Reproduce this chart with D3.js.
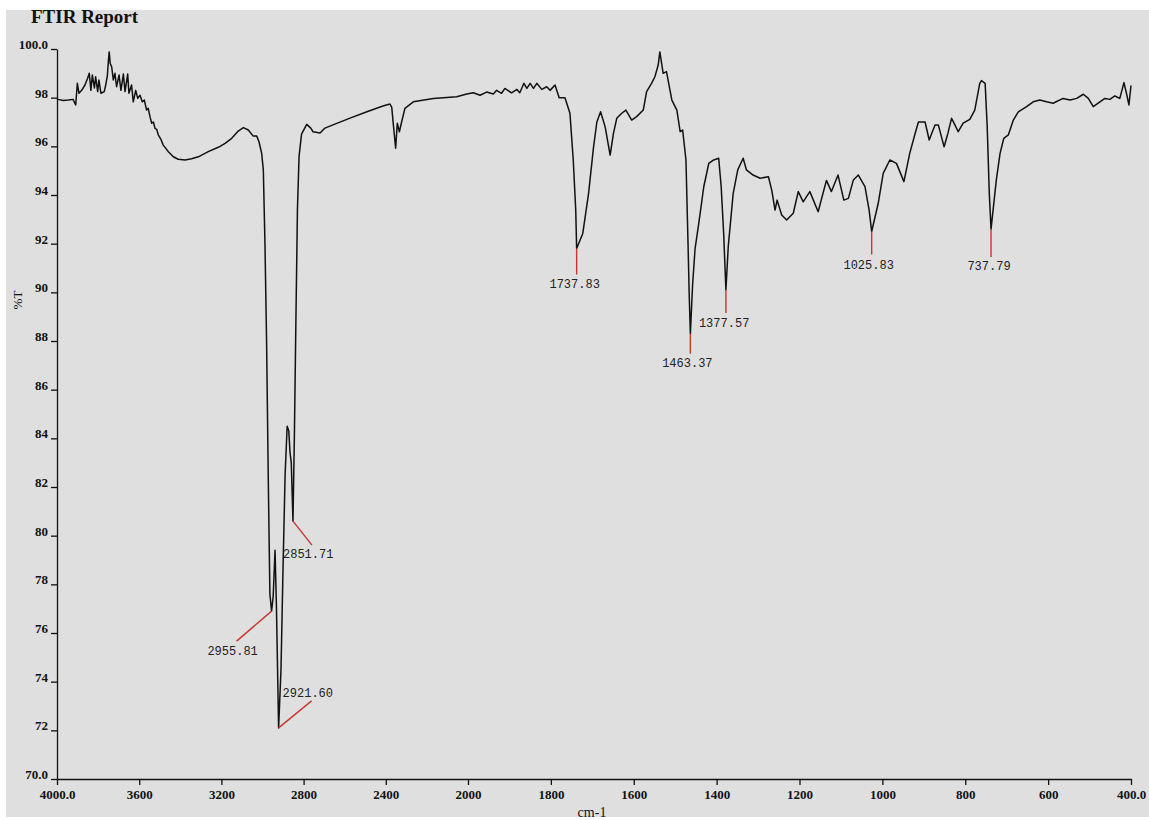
<!DOCTYPE html>
<html>
<head>
<meta charset="utf-8">
<script src="https://cdn.jsdelivr.net/npm/d3@7"></script>
<style>
  body { margin: 0; background: #fff; }
  .tick text { font-family: "Liberation Serif", serif; font-weight: bold; font-size: 13px; fill: #111; }
  .peak text { font-family: "Liberation Mono", "DejaVu Sans Mono", monospace; font-size: 12px; fill: #222; }
</style>
</head>
<body>
<div id="chart"></div>
<script>
// spectrum, wavenumber (cm-1) and %T
var wavenumbers = [4000,3994,3970,3945,3922,3909,3901,3893,3880,3864,3851,3843,3835,3828,3818,3812,3802,3796,3786,3770,3763,3755,3750,3746,3741,3734,3726,3718,3710,3698,3689,3677,3669,3656,3650,3637,3629,3617,3607,3596,3585,3575,3564,3556,3547,3539,3531,3523,3515,3507,3495,3483,3458,3434,3410,3377,3345,3312,3264,3215,3182,3150,3118,3093,3069,3045,3028,3017,3004,2996,2988,2980,2972,2964,2955.81,2948,2939,2932,2921.6,2910,2900,2890,2880,2872,2866,2860,2851.71,2845,2838,2830,2822,2810,2785,2765,2754,2720,2696,2657,2574,2492,2414,2380,2371,2364,2352,2344,2334,2323,2307,2266,2169,2055,2006,1987,1971,1955,1939,1931,1919,1911,1895,1882,1875,1865,1858,1850,1842,1834,1822,1810,1802,1790,1780,1766,1754,1746,1740,1737.83,1723,1709,1697,1689,1680,1669,1657,1649,1641,1629,1619,1605,1593,1577,1569,1557,1549,1541,1537,1529,1521,1508,1496,1488,1482,1474,1469,1466,1463.37,1458,1452,1443,1431,1419,1407,1395,1389,1383,1377.57,1372,1360,1349,1336,1328,1312,1295,1275,1267,1259,1254,1243,1231,1215,1203,1191,1183,1175,1155,1135,1123,1107,1093,1082,1070,1058,1042,1032,1025.83,1010,998,982,966,948,934,921,913,897,887,873,865,851,842,833,825,817,805,789,777,765,761,752,747,742,737.79,725,716,707,696,684,672,652,636,620,604,588,564,547,531,515,503,491,475,463,451,439,427,417,411,405,400];
var transmittance = [97.95,97.93,97.88,97.9,97.93,97.7,98.59,98.18,98.3,98.52,98.8,99,98.3,98.93,98.4,98.86,98.25,98.73,98.18,98.25,98.52,98.9,99.5,99.88,99.4,99.27,98.73,99,98.45,98.93,98.3,98.97,98.25,98.97,98.18,98.52,97.83,98.3,97.97,98.1,97.83,97.9,97.49,97.56,97.2,96.95,97,96.74,96.7,96.47,96.3,96.05,95.78,95.57,95.47,95.44,95.49,95.57,95.78,95.96,96.12,96.33,96.63,96.77,96.67,96.42,96.42,96.19,95.71,95.03,92,87.9,82.4,77.6,76.9,77.5,79.4,77,72.1,74.5,78.7,82.5,84.5,84.3,83.4,83,80.6,84,88.5,93.4,95.6,96.5,96.9,96.75,96.6,96.55,96.75,96.88,97.16,97.42,97.66,97.74,97.6,96.95,95.92,96.95,96.6,97,97.56,97.83,97.97,98.04,98.15,98.2,98.1,98.23,98.15,98.3,98.18,98.38,98.2,98.34,98.2,98.59,98.38,98.59,98.38,98.59,98.34,98.45,98.3,98.52,98,98,97.36,95.44,93.38,91.8,92.42,94.07,95.98,97,97.42,96.8,95.64,96.53,97.15,97.36,97.49,97.08,97.22,97.49,98.25,98.59,98.86,99.34,99.88,99,99.07,97.9,97.49,96.6,96.67,95.44,92,89.8,88.3,90.3,91.8,92.84,94.34,95.3,95.44,95.51,94.34,92.42,90.1,91.87,94.07,95.03,95.51,95.03,94.82,94.69,94.75,94.2,93.38,93.79,93.18,92.97,93.25,94.14,93.72,93.93,94.14,93.31,94.6,94.14,94.82,93.79,93.86,94.62,94.82,94.34,93.38,92.5,93.66,94.89,95.44,95.3,94.55,95.71,96.53,97,97,96.26,96.88,96.88,95.98,96.53,97.15,96.88,96.6,96.95,97.11,97.49,98.59,98.7,98.59,96.8,94.07,92.6,94.62,95.71,96.33,96.47,97.08,97.42,97.63,97.83,97.9,97.83,97.77,97.97,97.9,97.97,98.14,97.97,97.63,97.83,97.97,97.93,98.07,97.97,98.62,98.18,97.7,98.5];

// picked peaks
var peakNames = ["2955.81","2921.60","2851.71","1737.83","1463.37","1377.57","1025.83","737.79"];
var peakWn = [2955.81, 2921.6, 2851.71, 1737.83, 1463.37, 1377.57, 1025.83, 737.79];
var peakT = [76.9, 72.1, 80.6, 91.8, 88.3, 90.1, 92.5, 92.6];
// where each leader line ends and its label sits, relative to the peak (px)
var peakLayout = [
  {lx: -35, ly: 30, tx: -39, ty: 44, anchor: "middle"},
  {lx: 33, ly: -27, tx: 4, ty: -31, anchor: "start"},
  {lx: 19, ly: 24, tx: -10, ty: 37, anchor: "start"},
  {lx: 0, ly: 26, tx: -2, ty: 39, anchor: "middle"},
  {lx: 0, ly: 20, tx: -3, ty: 33, anchor: "middle"},
  {lx: 0, ly: 23, tx: -27, ty: 37, anchor: "start"},
  {lx: 0, ly: 23, tx: -3, ty: 37, anchor: "middle"},
  {lx: 0, ly: 28, tx: -2, ty: 41, anchor: "middle"}
];

var xTicks = [4000, 3600, 3200, 2800, 2400, 2000, 1800, 1600, 1400, 1200, 1000, 800, 600, 400];
var yTicks = [70, 72, 74, 76, 78, 80, 82, 84, 86, 88, 90, 92, 94, 96, 98, 100];

var width = 1149, height = 820;

var svg = d3.select("#chart").append("svg")
  .attr("width", width)
  .attr("height", height);

// scanned page: grey paper with a thin white border top/left
svg.append("rect")
  .attr("x", 6).attr("y", 10)
  .attr("width", width - 6).attr("height", height - 13)
  .attr("fill", "#dfdfdf");

// FTIR plots are expanded x2 below 2000 cm-1
var x = d3.scaleLinear().domain([4000, 2000, 400]).range([57, 468, 1131]);
var y = d3.scaleLinear().domain([70, 100]).range([779, 49]);

var xAxis = svg.append("g")
  .attr("transform", "translate(0,779)")
  .call(d3.axisBottom(x).tickValues(xTicks).tickSizeInner(6).tickSizeOuter(0).tickPadding(5)
    .tickFormat(function (d) { return (d == 4000 || d == 400) ? d.toFixed(1) : d; }));

var yAxis = svg.append("g")
  .attr("transform", "translate(57,0)")
  .call(d3.axisLeft(y).tickValues(yTicks).tickSizeInner(6).tickSizeOuter(0).tickPadding(3)
    .tickFormat(function (d) { return (d == 70 || d == 100) ? d.toFixed(1) : d; }));

svg.selectAll(".domain, .tick line").attr("stroke", "#111").attr("stroke-width", 1.3);
yAxis.selectAll(".tick text").attr("dy", "-0.05em");

var pts = wavenumbers.map(function (w, i) { return [w, transmittance[i]]; });

svg.append("path")
  .datum(pts)
  .attr("fill", "none")
  .attr("stroke", "#111")
  .attr("stroke-width", 1.5)
  .attr("stroke-linejoin", "round")
  .attr("d", d3.line()
    .x(function (d) { return x(d[0]); })
    .y(function (d) { return y(d[1]); }));

var peaks = svg.selectAll(".peak")
  .data(peakWn)
  .enter().append("g")
  .attr("class", "peak")
  .attr("transform", function (d, i) { return "translate(" + x(d) + "," + y(peakT[i]) + ")"; });

peaks.append("line")
  .attr("x1", 0).attr("y1", 0)
  .attr("x2", function (d, i) { return peakLayout[i].lx; })
  .attr("y2", function (d, i) { return peakLayout[i].ly; })
  .attr("stroke", "#c8352e")
  .attr("stroke-width", 1.4);

peaks.append("text")
  .attr("x", function (d, i) { return peakLayout[i].tx; })
  .attr("y", function (d, i) { return peakLayout[i].ty; })
  .attr("text-anchor", function (d, i) { return peakLayout[i].anchor; })
  .text(function (d, i) { return peakNames[i]; });

svg.append("text")
  .attr("x", 31).attr("y", 23)
  .attr("font-family", "Liberation Serif, serif")
  .attr("font-size", "19px")
  .attr("font-weight", "bold")
  .attr("fill", "#111")
  .text("FTIR Report");

svg.append("text")
  .attr("transform", "translate(22,300) rotate(-90)")
  .attr("text-anchor", "middle")
  .attr("font-family", "Liberation Serif, serif")
  .attr("font-size", "13px")
  .attr("fill", "#111")
  .text("%T");

svg.append("text")
  .attr("x", 592).attr("y", 817)
  .attr("text-anchor", "middle")
  .attr("font-family", "Liberation Serif, serif")
  .attr("font-size", "14px")
  .attr("fill", "#111")
  .text("cm-1");
</script>
</body>
</html>
